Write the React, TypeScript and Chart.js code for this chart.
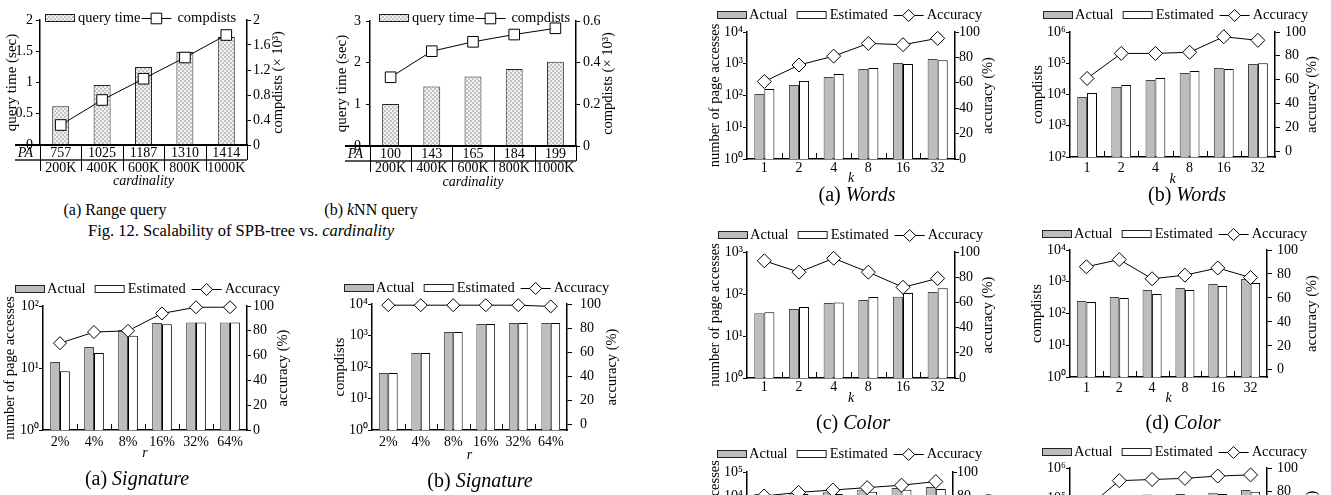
import React, { useEffect, useRef } from 'react';
import { Chart, registerables } from 'chart.js';

Chart.register(...registerables);

const SERIF = "'Liberation Serif', 'Times New Roman', Times, serif";
Chart.defaults.font.family = SERIF;
Chart.defaults.color = '#000';

// ---------------- Fig. 12 data ----------------
const cardinalityLabels = ['200K', '400K', '600K', '800K', '1000K'];
const rangeQueryTime = [0.62, 0.96, 1.25, 1.49, 1.73];
const rangeCompdists = [0.32, 0.72, 1.06, 1.4, 1.76];
const rangePA = [757, 1025, 1187, 1310, 1414];
const knnQueryTime = [1.01, 1.43, 1.67, 1.85, 2.02];
const knnCompdists = [0.33, 0.455, 0.5, 0.535, 0.565];
const knnPA = [100, 143, 165, 184, 199];

const rangeTimeTicks = [0, 0.5, 1, 1.5, 2];
const rangeCompTicks = [0, 0.4, 0.8, 1.2, 1.6, 2];
const knnTimeTicks = [0, 1, 2, 3];
const knnCompTicks = [0, 0.2, 0.4, 0.6];

// ---------------- accuracy figures data ----------------
const rLabels = ['2%', '4%', '8%', '16%', '32%', '64%'];
const kLabels = ['1', '2', '4', '8', '16', '32'];

const sigPageActual = [12.5, 21.8, 41, 53, 54, 54];
const sigPageEstimated = [8.9, 17.5, 33, 51, 54, 54];
const sigPageAccuracy = [70, 79, 80, 94, 99, 99];

const sigCompActual = [65, 277, 1290, 2300, 2500, 2500];
const sigCompEstimated = [65, 277, 1290, 2300, 2500, 2500];
const sigCompAccuracy = [99, 99, 99, 99, 99, 98];

const wordsPageActual = [112, 214, 380, 680, 1050, 1400];
const wordsPageEstimated = [160, 288, 475, 740, 980, 1300];
const wordsPageAccuracy = [61, 74, 81, 91, 90, 95];

const wordsCompActual = [8300, 17400, 29000, 49000, 71000, 95000];
const wordsCompEstimated = [11200, 20000, 34000, 56000, 66000, 100000];
const wordsCompAccuracy = [61, 82, 82, 83, 96, 93];

const colorPageActual = [35, 44, 61, 72, 86, 112];
const colorPageEstimated = [37, 49, 63, 85, 105, 138];
const colorPageAccuracy = [93, 84, 95, 84, 72, 79];

const colorCompActual = [246, 330, 550, 630, 850, 1230];
const colorCompEstimated = [229, 310, 410, 550, 740, 910];
const colorCompAccuracy = [86, 92, 76, 79, 85, 77];

const nextPageActual = [12000, 13000, 14500, 18000, 21500, 23500];
const nextPageEstimated = [9000, 12000, 12000, 15000, 18000, 19500];
const nextPageAccuracy = [80, 83, 85, 87, 89, 92];

const nextCompActual = [30000, 70000, 135000, 140000, 155000, 190000];
const nextCompEstimated = [25000, 60000, 110000, 125000, 140000, 165000];
const nextCompAccuracy = [65, 89, 90, 91, 93, 94];

const accuracyTicks = [0, 20, 40, 60, 80, 100];
const logTicks2 = [1, 10, 100];
const logTicks3 = [1, 10, 100, 1000];
const logTicks4 = [1, 10, 100, 1000, 10000];
const logTicks5 = [1, 10, 100, 1000, 10000, 100000];
const logTicks2to6 = [100, 1000, 10000, 100000, 1000000];

const SUP = ['\u2070', '\u00B9', '\u00B2', '\u00B3', '\u2074', '\u2075', '\u2076'];
const GRAY = '#bdbdbd';

// ---------------- helpers ----------------
function drawMarker(ctx: any, kind: string, x: number, y: number, r: number) {
  ctx.save();
  ctx.fillStyle = '#fff';
  ctx.strokeStyle = '#000';
  ctx.lineWidth = 1;
  ctx.beginPath();
  if (kind === 'square') {
    ctx.rect(x - r, y - r, 2 * r, 2 * r);
  } else {
    ctx.moveTo(x - r, y);
    ctx.lineTo(x, y - r);
    ctx.lineTo(x + r, y);
    ctx.lineTo(x, y + r);
    ctx.closePath();
  }
  ctx.fill();
  ctx.stroke();
  ctx.restore();
}

function legendPlugin(x0: number, y0: number, kinds: any[], size: number) {
  return {
    id: 'paperLegend',
    afterDraw(chart: any) {
      const ctx = chart.ctx;
      ctx.save();
      ctx.font = `${size}px ${SERIF}`;
      ctx.textBaseline = 'middle';
      ctx.textAlign = 'left';
      let x = x0;
      chart.data.datasets.forEach((ds: any, i: number) => {
        const k = kinds[i];
        if (k.kind === 'box') {
          ctx.fillStyle = k.fill;
          ctx.fillRect(x, Math.round(y0 - 4), 30, 8);
          ctx.lineWidth = 1;
          ctx.strokeStyle = '#222';
          ctx.strokeRect(x + 0.5, Math.round(y0 - 4) + 0.5, 29, 7);
        } else {
          ctx.lineWidth = 1;
          ctx.strokeStyle = '#000';
          ctx.beginPath();
          ctx.moveTo(x, Math.round(y0) + 0.5);
          ctx.lineTo(x + 30, Math.round(y0) + 0.5);
          ctx.stroke();
          drawMarker(ctx, k.marker, x + 15, Math.round(y0) + 0.5, k.r);
        }
        x += 30 + k.gapText;
        ctx.fillStyle = '#000';
        ctx.fillText(ds.label, x, y0 + 0.5);
        x += ctx.measureText(ds.label).width + (k.gapAfter || 0);
      });
      ctx.restore();
    },
  };
}

function rightTitlePlugin(text: string, x: number, size: number) {
  return {
    id: 'rightTitle',
    afterDraw(chart: any) {
      const { ctx, chartArea } = chart;
      ctx.save();
      ctx.translate(x, (chartArea.top + chartArea.bottom) / 2);
      ctx.rotate(-Math.PI / 2);
      ctx.font = `${size}px ${SERIF}`;
      ctx.textAlign = 'center';
      ctx.textBaseline = 'middle';
      ctx.fillStyle = '#000';
      ctx.fillText(text, 0, 0);
      ctx.restore();
    },
  };
}

const boundaryTickPlugin = {
  id: 'boundaryTicks',
  afterDraw(chart: any) {
    const ctx = chart.ctx;
    const xs = chart.scales.x;
    const n = chart.data.labels.length;
    const bottom = chart.chartArea.bottom;
    ctx.save();
    ctx.strokeStyle = '#000';
    ctx.lineWidth = 1;
    for (let i = 0; i < n - 1; i++) {
      const bx = Math.round((xs.getPixelForTick(i) + xs.getPixelForTick(i + 1)) / 2) + 0.5;
      ctx.beginPath();
      ctx.moveTo(bx, bottom);
      ctx.lineTo(bx, bottom - 6);
      ctx.stroke();
    }
    ctx.restore();
  },
};

function tablePlugin(pa: number[]) {
  return {
    id: 'paTable',
    afterDraw(chart: any) {
      const ctx = chart.ctx;
      const xs = chart.scales.x;
      const { left, right, bottom } = chart.chartArea;
      const tl = left - 25;
      const n = pa.length;
      ctx.save();
      ctx.strokeStyle = '#000';
      ctx.lineWidth = 2;
      ctx.beginPath();
      ctx.moveTo(tl, bottom);
      ctx.lineTo(right, bottom);
      ctx.stroke();
      ctx.strokeStyle = '#555';
      ctx.beginPath();
      ctx.moveTo(tl, bottom + 15);
      ctx.lineTo(right, bottom + 15);
      ctx.stroke();
      ctx.strokeStyle = '#000';
      ctx.lineWidth = 1;
      const vline = (x: number, len: number) => {
        const px = Math.round(x) + 0.5;
        ctx.beginPath();
        ctx.moveTo(px, bottom);
        ctx.lineTo(px, bottom + len);
        ctx.stroke();
      };
      vline(left, 26);
      for (let i = 0; i < n - 1; i++) {
        vline((xs.getPixelForTick(i) + xs.getPixelForTick(i + 1)) / 2, 26);
      }
      vline(right, 15);
      ctx.fillStyle = '#000';
      ctx.textAlign = 'center';
      ctx.textBaseline = 'middle';
      ctx.font = `italic 14px ${SERIF}`;
      ctx.fillText('PA', (tl + left) / 2 - 2, bottom + 8);
      ctx.font = `14px ${SERIF}`;
      pa.forEach((v, i) => ctx.fillText(String(v), xs.getPixelForTick(i), bottom + 8));
      ctx.restore();
    },
  };
}

function logLabel(v: any) {
  return '10' + SUP[Math.round(Math.log10(Number(v)))];
}

function yScale(opts: any) {
  const { type, min, max, ticks, position, width, tl, pad, cb, title } = opts;
  return {
    type,
    position,
    min,
    max,
    afterBuildTicks: (s: any) => {
      s.ticks = ticks.map((v: number) => ({ value: v }));
    },
    ticks: {
      font: { family: SERIF, size: 14 },
      color: '#000',
      padding: pad,
      autoSkip: false,
      callback: cb,
    },
    grid: {
      display: true,
      drawOnChartArea: false,
      drawTicks: true,
      tickLength: tl,
      color: '#000',
      lineWidth: 1,
    },
    border: { display: true, color: '#000', width: 1.5 },
    title: title || { display: false },
    afterFit: (s: any) => {
      s.width = width;
      s.paddingTop = 0;
      s.paddingBottom = 0;
    },
  };
}

function xScale(labels: string[], height: number, labelPad: number, text: string, titlePad: number, bw: number) {
  return {
    type: 'category',
    labels,
    offset: true,
    grid: { display: false, drawTicks: false, tickLength: 0 },
    border: { display: true, color: '#000', width: bw },
    ticks: {
      font: { family: SERIF, size: 14 },
      color: '#000',
      padding: labelPad,
      autoSkip: false,
      maxRotation: 0,
    },
    title: {
      display: true,
      text,
      color: '#000',
      font: { family: SERIF, size: 14, style: 'italic' },
      padding: { top: 0, bottom: Math.max(0, titlePad) },
    },
    afterFit: (s: any) => {
      s.height = height;
      s.paddingLeft = 0;
      s.paddingRight = 0;
    },
  };
}

// ---------------- accuracy chart ----------------
type AccSpec = any;

function createAccChart(canvas: HTMLCanvasElement, s: AccSpec) {
  const [cx, cy, cw, ch] = s.box;
  const [L, R, T, B] = s.area;
  const lhT = 14.5 * 1.2;
  return new Chart(canvas, {
    type: 'bar',
    data: {
      labels: s.labels,
      datasets: [
        {
          type: 'bar',
          label: 'Actual',
          data: s.actual,
          backgroundColor: GRAY,
          borderColor: '#444',
          borderWidth: 1,
          yAxisID: 'y',
          order: 2,
          categoryPercentage: 0.58,
          barPercentage: 1,
        },
        {
          type: 'bar',
          label: 'Estimated',
          data: s.est,
          backgroundColor: '#fff',
          borderColor: '#000',
          borderWidth: 1,
          yAxisID: 'y',
          order: 2,
          categoryPercentage: 0.58,
          barPercentage: 1,
        },
        {
          type: 'line',
          label: 'Accuracy',
          data: s.acc,
          yAxisID: 'y2',
          order: 0,
          borderColor: '#000',
          borderWidth: 1,
          pointStyle: 'rectRot',
          pointRadius: s.marker,
          pointBackgroundColor: '#fff',
          pointBorderColor: '#000',
          pointBorderWidth: 1,
          fill: false,
          tension: 0,
          clip: false,
        },
      ],
    } as any,
    options: {
      responsive: false,
      animation: false,
      devicePixelRatio: 1,
      layout: { autoPadding: false, padding: { top: T - cy, left: 0, right: 0, bottom: 0 } },
      plugins: { legend: { display: false }, tooltip: { enabled: false }, title: { display: false } },
      scales: {
        x: xScale(s.labels, cy + ch - B, s.xLabelY - B - 8.4, s.xTitle, cy + ch - s.xTitleY - 8.4, 1.5),
        y: yScale({
          type: 'logarithmic',
          min: s.yTicks[0],
          max: s.yTicks[s.yTicks.length - 1],
          ticks: s.yTicks,
          position: 'left',
          width: L - cx,
          tl: 4,
          pad: 0,
          cb: logLabel,
          title: {
            display: true,
            text: s.leftTitle,
            color: '#000',
            font: { family: SERIF, size: 14.5 },
            padding: { top: s.leftTitleX - cx - lhT / 2, bottom: 0 },
          },
        }),
        y2: yScale({
          type: 'linear',
          min: s.y2Min,
          max: 100,
          ticks: accuracyTicks,
          position: 'right',
          width: cx + cw - R,
          tl: s.y2Tick[0],
          pad: s.y2Tick[1],
          cb: (v: any) => String(v),
        }),
      } as any,
    },
    plugins: [
      legendPlugin(
        s.legendX - cx,
        s.legendY - cy,
        [
          { kind: 'box', fill: GRAY, gapText: 2, gapAfter: 9 },
          { kind: 'box', fill: '#fff', gapText: 3, gapAfter: 6 },
          { kind: 'line', marker: 'diamond', r: 6, gapText: 3 },
        ],
        14.5,
      ),
      rightTitlePlugin('accuracy (%)', s.rightTitleX - cx, 14.5),
      boundaryTickPlugin,
    ] as any,
  });
}

// ---------------- Fig. 12 chart ----------------
function makeChecker() {
  const c = document.createElement('canvas');
  c.width = 4;
  c.height = 4;
  const g = c.getContext('2d')!;
  g.fillStyle = '#f2f2f2';
  g.fillRect(0, 0, 4, 4);
  g.fillStyle = '#c4c4c4';
  g.fillRect(0, 0, 2, 2);
  g.fillRect(2, 2, 2, 2);
  return g.createPattern(c, 'repeat');
}

function createFigChart(canvas: HTMLCanvasElement, s: any) {
  const [cx, cy, cw, ch] = s.box;
  const [L, R, T, B] = s.area;
  const pattern = makeChecker();
  const lhT = 15 * 1.2;
  return new Chart(canvas, {
    type: 'bar',
    data: {
      labels: cardinalityLabels,
      datasets: [
        {
          type: 'bar',
          label: 'query time',
          data: s.time,
          backgroundColor: pattern,
          borderColor: '#222',
          borderWidth: 1,
          yAxisID: 'y',
          order: 2,
          categoryPercentage: 1,
          barPercentage: 0.41,
        },
        {
          type: 'line',
          label: 'compdists',
          data: s.comp,
          yAxisID: 'y2',
          order: 0,
          borderColor: '#000',
          borderWidth: 1,
          pointStyle: 'rect',
          pointRadius: 7.5,
          pointBackgroundColor: '#fff',
          pointBorderColor: '#000',
          pointBorderWidth: 1,
          fill: false,
          tension: 0,
          clip: false,
        },
      ],
    } as any,
    options: {
      responsive: false,
      animation: false,
      devicePixelRatio: 1,
      layout: { autoPadding: false, padding: { top: T - cy, left: 0, right: 0, bottom: 0 } },
      plugins: { legend: { display: false }, tooltip: { enabled: false }, title: { display: false } },
      scales: {
        x: xScale(cardinalityLabels, cy + ch - B, s.xLabelY - B - 8.4, 'cardinality', cy + ch - s.xTitleY - 8.4, 2),
        y: yScale({
          type: 'linear',
          min: 0,
          max: s.timeTicks[s.timeTicks.length - 1],
          ticks: s.timeTicks,
          position: 'left',
          width: L - cx,
          tl: 4,
          pad: s.yPad,
          cb: (v: any) => String(v),
          title: {
            display: true,
            text: 'query time (sec)',
            color: '#000',
            font: { family: SERIF, size: 15 },
            padding: { top: s.leftTitleX - cx - lhT / 2, bottom: 0 },
          },
        }),
        y2: yScale({
          type: 'linear',
          min: 0,
          max: s.compTicks[s.compTicks.length - 1],
          ticks: s.compTicks,
          position: 'right',
          width: cx + cw - R,
          tl: 4,
          pad: s.y2Pad,
          cb: (v: any) => String(v),
        }),
      } as any,
    },
    plugins: [
      legendPlugin(
        s.legendX - cx,
        s.legendY - cy,
        [
          { kind: 'box', fill: pattern, gapText: 3, gapAfter: 1 },
          { kind: 'line', marker: 'square', r: 5.3, gapText: 6 },
        ],
        14.5,
      ),
      rightTitlePlugin('compdists (\u00D7 10\u00B3)', s.rightTitleX - cx, 14.5),
      tablePlugin(s.pa),
    ] as any,
  });
}

// ---------------- specs (layout only) ----------------
const figSpecs = [
  {
    key: 'range',
    box: [0, 0, 300, 190],
    area: [40, 247, 20, 145],
    time: rangeQueryTime,
    comp: rangeCompdists,
    pa: rangePA,
    timeTicks: rangeTimeTicks,
    compTicks: rangeCompTicks,
    leftTitleX: 12,
    rightTitleX: 278,
    legendX: 45,
    legendY: 18,
    xLabelY: 168,
    xTitleY: 181,
    yPad: 3,
    y2Pad: 2,
  },
  {
    key: 'knn',
    box: [330, 0, 300, 192],
    area: [370, 576, 21, 146],
    time: knnQueryTime,
    comp: knnCompdists,
    pa: knnPA,
    timeTicks: knnTimeTicks,
    compTicks: knnCompTicks,
    leftTitleX: 342,
    rightTitleX: 608,
    legendX: 379,
    legendY: 18,
    xLabelY: 168,
    xTitleY: 182,
    yPad: 5,
    y2Pad: 3,
  },
];

const accSpecs = [
  {
    key: 'sigPage',
    box: [0, 270, 300, 225],
    area: [43, 247, 306, 430],
    labels: rLabels,
    actual: sigPageActual,
    est: sigPageEstimated,
    acc: sigPageAccuracy,
    yTicks: logTicks2,
    y2Min: 0,
    leftTitle: 'number of page accesses',
    leftTitleX: 10,
    rightTitleX: 283,
    xTitle: 'r',
    xLabelY: 442,
    xTitleY: 453,
    legendX: 15,
    legendY: 289,
    y2Tick: [4, 2],
    marker: 6.5,
  },
  {
    key: 'sigComp',
    box: [330, 270, 300, 225],
    area: [372, 567, 304, 430],
    labels: rLabels,
    actual: sigCompActual,
    est: sigCompEstimated,
    acc: sigCompAccuracy,
    yTicks: logTicks4,
    y2Min: -5,
    leftTitle: 'compdists',
    leftTitleX: 340,
    rightTitleX: 612,
    xTitle: 'r',
    xLabelY: 442,
    xTitleY: 455,
    legendX: 344,
    legendY: 288,
    y2Tick: [5, 8],
    marker: 6.5,
  },
  {
    key: 'wordsPage',
    box: [670, 0, 330, 205],
    area: [747, 955, 32, 159],
    labels: kLabels,
    actual: wordsPageActual,
    est: wordsPageEstimated,
    acc: wordsPageAccuracy,
    yTicks: logTicks4,
    y2Min: 0,
    leftTitle: 'number of page accesses',
    leftTitleX: 715,
    rightTitleX: 988,
    xTitle: 'k',
    xLabelY: 168,
    xTitleY: 178,
    legendX: 717,
    legendY: 15,
    y2Tick: [4, 0],
    marker: 7,
  },
  {
    key: 'wordsComp',
    box: [1000, 0, 331, 205],
    area: [1070, 1275, 32, 157],
    labels: kLabels,
    actual: wordsCompActual,
    est: wordsCompEstimated,
    acc: wordsCompAccuracy,
    yTicks: logTicks2to6,
    y2Min: -5,
    leftTitle: 'compdists',
    leftTitleX: 1038,
    rightTitleX: 1312,
    xTitle: 'k',
    xLabelY: 168,
    xTitleY: 179,
    legendX: 1043,
    legendY: 15,
    y2Tick: [5, 5],
    marker: 7,
  },
  {
    key: 'colorPage',
    box: [670, 215, 330, 215],
    area: [747, 955, 252, 378],
    labels: kLabels,
    actual: colorPageActual,
    est: colorPageEstimated,
    acc: colorPageAccuracy,
    yTicks: logTicks3,
    y2Min: 0,
    leftTitle: 'number of page accesses',
    leftTitleX: 715,
    rightTitleX: 988,
    xTitle: 'k',
    xLabelY: 387,
    xTitleY: 398,
    legendX: 718,
    legendY: 235,
    y2Tick: [4, 0],
    marker: 7,
  },
  {
    key: 'colorComp',
    box: [1000, 215, 331, 215],
    area: [1070, 1267, 250, 377],
    labels: kLabels,
    actual: colorCompActual,
    est: colorCompEstimated,
    acc: colorCompAccuracy,
    yTicks: logTicks4,
    y2Min: -6,
    leftTitle: 'compdists',
    leftTitleX: 1037,
    rightTitleX: 1312,
    xTitle: 'k',
    xLabelY: 388,
    xTitleY: 398,
    legendX: 1042,
    legendY: 234,
    y2Tick: [5, 5],
    marker: 7,
  },
  {
    key: 'nextPage',
    box: [670, 435, 330, 200],
    area: [747, 953, 472, 592],
    labels: kLabels,
    actual: nextPageActual,
    est: nextPageEstimated,
    acc: nextPageAccuracy,
    yTicks: logTicks5,
    y2Min: 0,
    leftTitle: 'number of page accesses',
    leftTitleX: 715,
    rightTitleX: 988,
    xTitle: 'k',
    xLabelY: 604,
    xTitleY: 615,
    legendX: 717,
    legendY: 454,
    y2Tick: [4, 0],
    marker: 7,
  },
  {
    key: 'nextComp',
    box: [1000, 435, 331, 200],
    area: [1070, 1267, 468, 590],
    labels: kLabels,
    actual: nextCompActual,
    est: nextCompEstimated,
    acc: nextCompAccuracy,
    yTicks: logTicks2to6,
    y2Min: -6,
    leftTitle: 'compdists',
    leftTitleX: 1037,
    rightTitleX: 1312,
    xTitle: 'k',
    xLabelY: 602,
    xTitleY: 613,
    legendX: 1042,
    legendY: 452,
    y2Tick: [5, 5],
    marker: 7,
  },
];

// ---------------- components ----------------
function Panel({ spec, make }: { spec: any; make: (c: HTMLCanvasElement, s: any) => Chart }) {
  const ref = useRef<HTMLCanvasElement>(null);
  useEffect(() => {
    if (!ref.current) return;
    const chart = make(ref.current, spec);
    return () => chart.destroy();
  }, [spec, make]);
  const [x, y, w, h] = spec.box;
  return (
    <canvas
      ref={ref}
      width={w}
      height={h}
      style={{ position: 'absolute', left: x, top: y, width: w, height: h }}
    />
  );
}

function Caption({ x, y, size, children }: { x: number; y: number; size: number; children: any }) {
  return (
    <div
      style={{
        position: 'absolute',
        left: x - 250,
        top: y - size * 0.6,
        width: 500,
        textAlign: 'center',
        fontFamily: SERIF,
        fontSize: size,
        lineHeight: `${size * 1.2}px`,
        color: '#000',
        whiteSpace: 'nowrap',
      }}
    >
      {children}
    </div>
  );
}

export default function App() {
  return (
    <div
      style={{
        position: 'fixed',
        left: 0,
        top: 0,
        width: 1331,
        height: 495,
        overflow: 'hidden',
        background: '#fff',
      }}
    >
      {figSpecs.map((s) => (
        <Panel key={s.key} spec={s} make={createFigChart} />
      ))}
      {accSpecs.map((s) => (
        <Panel key={s.key} spec={s} make={createAccChart} />
      ))}
      <Caption x={115} y={210} size={16}>
        (a) Range query
      </Caption>
      <Caption x={371} y={210} size={16}>
        (b) <i>k</i>NN query
      </Caption>
      <Caption x={241} y={231} size={16.5}>
        Fig. 12. Scalability of SPB-tree vs. <i>cardinality</i>
      </Caption>
      <Caption x={137} y={478} size={20}>
        (a) <i>Signature</i>
      </Caption>
      <Caption x={480} y={480} size={20}>
        (b) <i>Signature</i>
      </Caption>
      <Caption x={857} y={194} size={20}>
        (a) <i>Words</i>
      </Caption>
      <Caption x={1187} y={194} size={20}>
        (b) <i>Words</i>
      </Caption>
      <Caption x={853} y={422} size={20}>
        (c) <i>Color</i>
      </Caption>
      <Caption x={1183} y={422} size={20}>
        (d) <i>Color</i>
      </Caption>
    </div>
  );
}
